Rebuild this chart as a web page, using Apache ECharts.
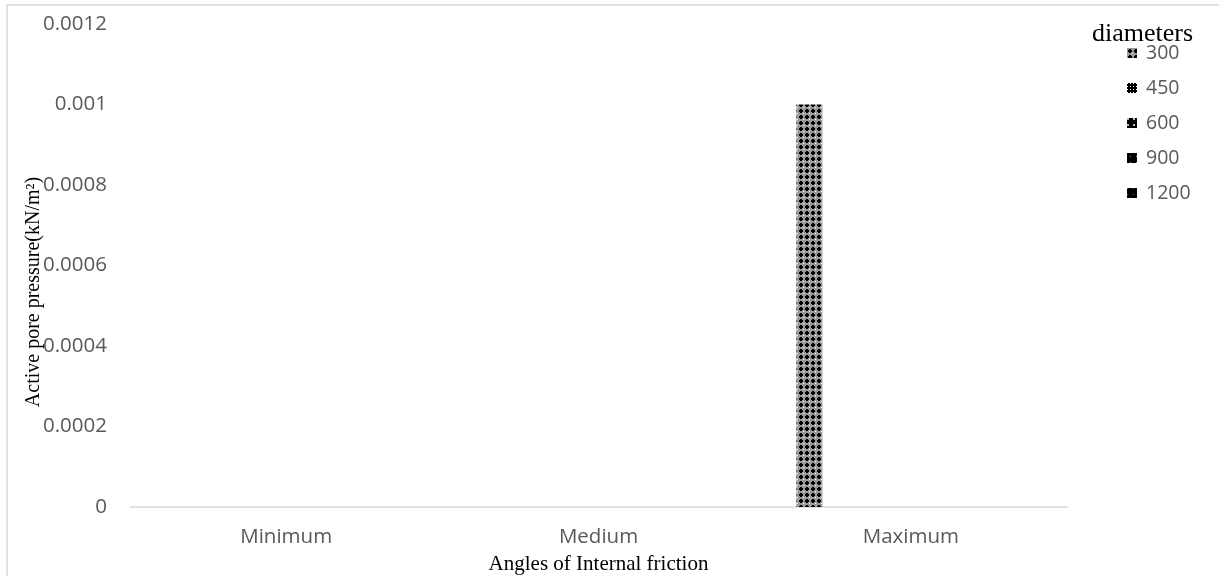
<!DOCTYPE html>
<html><head><meta charset="utf-8">
<script src="https://cdn.jsdelivr.net/npm/echarts@6/dist/echarts.min.js"></script>
<style>html,body{margin:0;padding:0;background:#fff}#c{width:1219px;height:576px}</style>
</head><body><div id="c"></div>
<script>
const categories = ['Minimum', 'Medium', 'Maximum'];
const seriesNames = ['300', '450', '600', '900', '1200'];
const d300 = [0, 0, 0.001];
const d450 = [0, 0, 0];
const d600 = [0, 0, 0];
const d900 = [0, 0, 0];
const d1200 = [0, 0, 0];
const yTicks = [0, 0.0002, 0.0004, 0.0006, 0.0008, 0.001, 0.0012];

function makePattern(kind) {
  const c = document.createElement('canvas');
  const n = 6; c.width = n; c.height = n;
  const g = c.getContext('2d');
  if (kind === 0) {
    g.fillStyle = '#999'; g.fillRect(0, 0, n, n);
    g.fillStyle = '#000';
    g.fillRect(2, 1, 2, 4); g.fillRect(1, 2, 4, 2);
    g.fillStyle = '#fff';
    g.fillRect(5, 5, 1, 1);
  } else if (kind === 1) {
    g.fillStyle = '#000'; g.fillRect(0, 0, n, n);
    g.fillStyle = '#fff';
    g.fillRect(0, 0, 1, 1); g.fillRect(3, 0, 1, 1); g.fillRect(0, 3, 1, 1); g.fillRect(3, 3, 1, 1);
  } else if (kind === 2) {
    g.fillStyle = '#000'; g.fillRect(0, 0, n, n);
    g.fillStyle = '#bbb';
    g.fillRect(0, 0, 2, 2);
  } else if (kind === 3) {
    g.fillStyle = '#000'; g.fillRect(0, 0, n, n);
    g.fillStyle = '#999';
    g.fillRect(3, 3, 1, 1);
  } else {
    g.fillStyle = '#000'; g.fillRect(0, 0, n, n);
    g.fillStyle = '#666';
    g.fillRect(0, 0, 1, 1);
  }
  return { image: c, repeat: 'repeat' };
}

const dataSets = [d300, d450, d600, d900, d1200];
const chart = echarts.init(document.getElementById('c'));
chart.setOption({
  animation: false,
  backgroundColor: '#fff',
  grid: { left: 130, right: 152, top: 24, bottom: 69, containLabel: false, outerBoundsMode: 'none' },
  xAxis: {
    type: 'category', data: categories,
    axisLine: { lineStyle: { color: '#d9d9d9', width: 1.5 } },
    axisTick: { show: false },
    axisLabel: { color: '#595959', fontSize: 20.5, fontFamily: 'Open Sans', margin: 20 },
    name: 'Angles of Internal friction', nameLocation: 'middle', nameGap: 47,
    nameTextStyle: { color: '#000', fontSize: 21, fontFamily: 'Liberation Serif' }
  },
  yAxis: {
    type: 'value', min: 0, max: yTicks[yTicks.length - 1], interval: 0.0002,
    axisLine: { show: false }, axisTick: { show: false }, splitLine: { show: false },
    axisLabel: { color: '#595959', fontSize: 20.5, fontFamily: 'Open Sans', margin: 23,
      formatter: v => String(+v.toFixed(4)) }
  },
  legend: {
    orient: 'vertical', left: 1122, top: 38, itemGap: 15, itemWidth: 10, itemHeight: 10,
    icon: 'rect', data: seriesNames,
    textStyle: { color: '#595959', fontSize: 19.5, fontFamily: 'Open Sans', padding: [0, 0, 0, 4] }
  },
  series: seriesNames.map((nm, i) => ({
    name: nm, type: 'bar', data: dataSets[i], barWidth: 26, barGap: '95%',
    itemStyle: { color: makePattern(i) }
  })),
  graphic: [
    { type: 'line', shape: { x1: 7, y1: 5, x2: 1230, y2: 5 }, style: { stroke: '#d9d9d9', lineWidth: 1.5 } },
    { type: 'line', shape: { x1: 7, y1: 5, x2: 7, y2: 590 }, style: { stroke: '#d9d9d9', lineWidth: 1.5 } },
    { type: 'text', left: 1092, top: 21, style: { text: 'diameters', fill: '#000', font: '26px "Liberation Serif"' } },
    { type: 'text', x: 34, y: 292, rotation: Math.PI / 2,
      style: { text: 'Active pore pressure(kN/m²)', fill: '#000', font: '20px "Liberation Serif"',
        textAlign: 'center', textVerticalAlign: 'middle' } }
  ]
});
</script></body></html>
